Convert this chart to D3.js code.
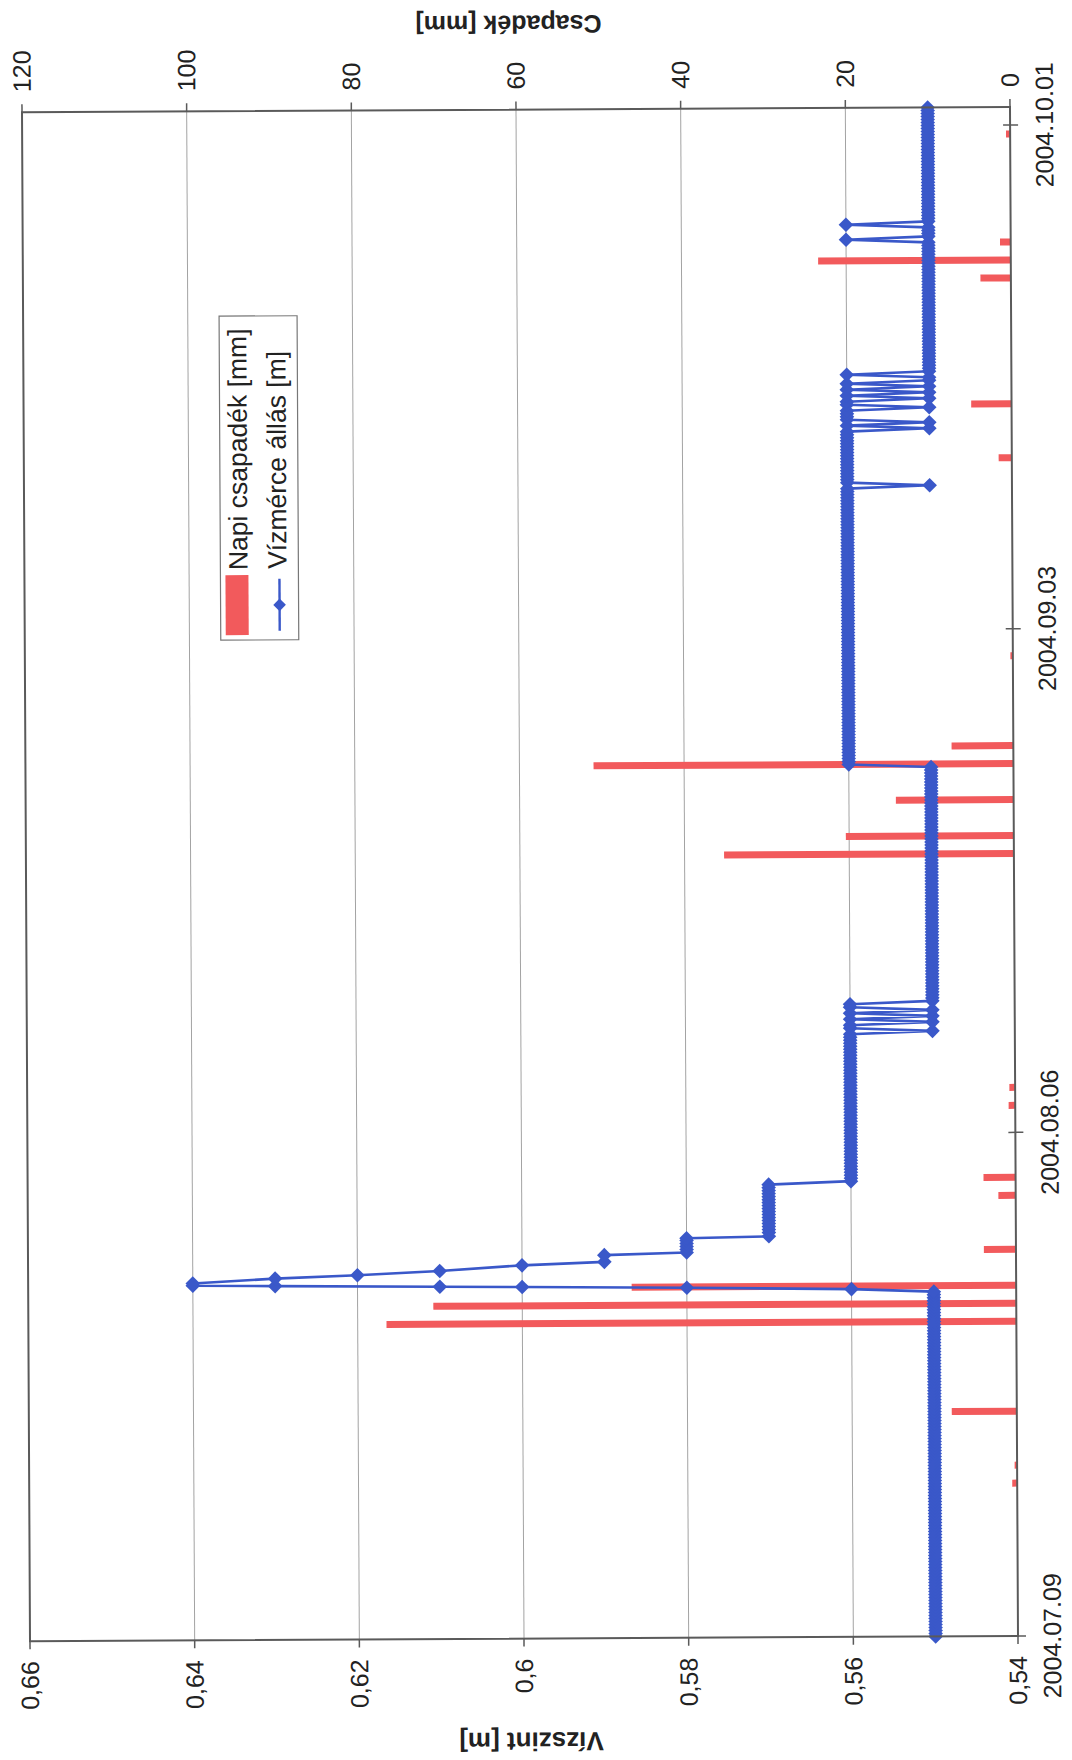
<!DOCTYPE html>
<html><head><meta charset="utf-8">
<script src="https://cdn.jsdelivr.net/npm/d3@7"></script>
<style>body{margin:0;background:#fff}svg{display:block}</style>
</head><body>
<svg id="c" width="1072" height="1760"></svg>
<script>
// ---------- data ----------
const startDate = '2004.07.09';
const endDate = '2004.10.02';
const dateTicks = ['2004.07.09', '2004.08.06', '2004.09.03', '2004.10.01'];
const levelTicks = [0.54, 0.56, 0.58, 0.6, 0.62, 0.64, 0.66];
const rainTicks = [0, 20, 40, 60, 80, 100, 120];
const seriesNames = ['Napi csapadék [mm]', 'Vízmérce állás [m]'];
const axisTitles = ['Vízszint [m]', 'Csapadék [mm]'];

// daily precipitation
const rainDates = ['2004.07.17','2004.07.18','2004.07.21','2004.07.26','2004.07.27','2004.07.28',
  '2004.07.30','2004.08.02','2004.08.03','2004.08.07','2004.08.08','2004.08.21','2004.08.22',
  '2004.08.24','2004.08.26','2004.08.27','2004.09.01','2004.09.12','2004.09.15','2004.09.22',
  '2004.09.23','2004.09.24','2004.09.30'];
const rainMm = [0.6, 0.3, 7.9, 76.5, 70.8, 46.7, 3.9, 2.1, 3.9, 0.8, 0.7, 35.2, 20.4,
  14.3, 51.0, 7.5, 0.3, 1.6, 4.9, 3.7, 23.4, 1.3, 0.5];

// gauge readings every 4 hours from 2004.07.09 00:00 (cm); null = covered by the flood record below
const readingStepHours = 4;
const levelCm = [
55,55,55,55,55,55, 55,55,55,55,55,55, 55,55,55,55,55,55, 55,55,55,55,55,55, 55,55,55,55,55,55,
55,55,55,55,55,55, 55,55,55,55,55,55, 55,55,55,55,55,55, 55,55,55,55,55,55, 55,55,55,55,55,55,
55,55,55,55,55,55, 55,55,55,55,55,55, 55,55,55,55,55,55, 55,55,55,55,55,55, 55,55,55,55,55,55,
55,55,55,55,55,55, 55,55,55,55,55,55, 55,55,55,55,55,55, 55,55,55,55,55,55,
55,null,null,null,null,null, null,null,null,null,null,null, null,null,null,null,null,null,
null,null,null,57,57,57, 57,57,57,57,57,57, 57,57,57,57,57,57, 57,57,56,56,56,56,
56,56,56,56,56,56, 56,56,56,56,56,56, 56,56,56,56,56,56, 56,56,56,56,56,56,
56,56,56,56,56,56, 56,56,56,56,56,56, 56,56,56,56,56,56,
56,56,56,56,55,56, 56,55,56,55,56,55, 56,56,55,55,55,55,
55,55,55,55,55,55, 55,55,55,55,55,55, 55,55,55,55,55,55, 55,55,55,55,55,55,
55,55,55,55,55,55, 55,55,55,55,55,55, 55,55,55,55,55,55, 55,55,55,55,55,55,
55,55,55,55,55,55, 55,55,55,55,55,55, 55,55,55,55,55,55, 55,55,55,55,55,55,
55,55,55,56,56,56,
56,56,56,56,56,56, 56,56,56,56,56,56, 56,56,56,56,56,56, 56,56,56,56,56,56, 56,56,56,56,56,56,
56,56,56,56,56,56, 56,56,56,56,56,56, 56,56,56,56,56,56, 56,56,56,56,56,56, 56,56,56,56,56,56,
56,56,56,56,56,56, 56,56,56,56,56,56, 56,56,56,56,56,56, 56,56,56,56,56,56, 56,56,56,56,56,56,
55,56,56,56,56,56, 56,56,56,56,56,56, 56,56,56,56,56,56,
56,55,56,55,56,56, 56,56,55,56,56,55, 56,55,56,55,56,55, 55,56,55,55,55,55,
55,55,55,55,55,55, 55,55,55,55,55,55, 55,55,55,55,55,55, 55,55,55,55,55,55,
55,55,55,55,55,55, 55,55,55,55,55,55,
55,55,55,55,56,55, 55,55,55,56,55,55,
55,55,55,55,55,55, 55,55,55,55,55,55, 55,55,55,55,55,55, 55,55,55,55,55,55,
55,55,55,55,55,55, 55,55,55,55,55,55,
55
];
// flood event record (hours from 2004.07.09 00:00, cm)
const eventHours = [460, 464, 467, 469, 470, 472, 473, 476, 482, 486, 491, 498, 502, 511,
  514, 518, 522, 526, 530, 533, 535];
const eventCm = [55, 56, 58, 60, 61, 63, 64, 64, 63, 62, 61, 60, 59, 59,
  58, 58, 58, 58, 58, 58, 57];

// ---------- layout ----------
const W = 1529, H = 988;          // chart drawn in its own orientation, then turned
const RED = '#f25a5c', BLUE = '#3a58c9', FONT = '"Liberation Sans", Arial, sans-serif';

const parse = d3.utcParse('%Y.%m.%d');
const t0 = parse(startDate);
const HOUR = 3600e3;
const x = d3.scaleUtc().domain([t0, parse(endDate)]).range([0, W]);
const yL = d3.scaleLinear().domain([0.54, 0.66]).range([H, 0]);
const yR = d3.scaleLinear().domain([0, 120]).range([H, 0]);

const readings = levelCm
  .map((c, i) => c == null ? null : { t: new Date(+t0 + i * readingStepHours * HOUR), v: c / 100 })
  .filter(Boolean)
  .concat(eventHours.map((h, i) => ({ t: new Date(+t0 + h * HOUR), v: eventCm[i] / 100 })))
  .sort((a, b) => a.t - b.t);

const rain = rainDates.map((d, i) => ({ t: new Date(+parse(d) + 12 * HOUR), v: rainMm[i] }));

const svg = d3.select('#c');
svg.append('rect').attr('width', 1072).attr('height', 1760).attr('fill', '#fff');
const tilt = svg.append('g').attr('transform', 'rotate(-0.3 520 874)');
const g = tilt.append('g').attr('transform', 'translate(26,1638.6) rotate(-90)')
  .style('font-family', FONT);

// plot background
g.append('rect').attr('width', W).attr('height', H).attr('fill', '#fff');

// gridlines
g.append('g').selectAll('line').data(levelTicks.slice(1, -1)).join('line')
  .attr('x1', 0).attr('x2', W).attr('y1', d => yL(d)).attr('y2', d => yL(d))
  .attr('stroke', '#a3a3a3').attr('stroke-width', 1);

// precipitation bars
const barW = 7;
g.append('g').selectAll('rect').data(rain).join('rect')
  .attr('x', d => x(d.t) - barW / 2).attr('width', barW)
  .attr('y', d => yR(d.v)).attr('height', d => H - yR(d.v))
  .attr('fill', RED);

// water level line + markers
const line = d3.line().x(d => x(d.t)).y(d => yL(d.v));
g.append('path').datum(readings).attr('d', line)
  .attr('fill', 'none').attr('stroke', BLUE).attr('stroke-width', 2.6).attr('stroke-linejoin', 'round');
const dia = 'M0,-7.3L7.3,0L0,7.3L-7.3,0Z';
g.append('g').selectAll('path').data(readings).join('path')
  .attr('transform', d => `translate(${x(d.t)},${yL(d.v)})`)
  .attr('d', dia).attr('fill', BLUE);

// border
g.append('rect').attr('width', W).attr('height', H).attr('fill', 'none')
  .attr('stroke', '#5a5a5a').attr('stroke-width', 2);

// left (level) axis
const axL = g.append('g');
axL.selectAll('line').data(levelTicks).join('line')
  .attr('x1', 0).attr('x2', -8).attr('y1', d => yL(d)).attr('y2', d => yL(d))
  .attr('stroke', '#5a5a5a').attr('stroke-width', 1.5);
axL.selectAll('text').data(levelTicks).join('text')
  .attr('x', -20).attr('y', d => yL(d)).attr('dy', '0.35em')
  .attr('text-anchor', 'end').attr('font-size', 25).attr('fill', '#222')
  .text(d => String(d).replace('.', ','));

// right (rain) axis
const axR = g.append('g');
axR.selectAll('line').data(rainTicks).join('line')
  .attr('x1', W).attr('x2', W + 8).attr('y1', d => yR(d)).attr('y2', d => yR(d))
  .attr('stroke', '#5a5a5a').attr('stroke-width', 1.5);
axR.selectAll('text').data(rainTicks).join('text')
  .attr('x', W + 20).attr('y', d => yR(d)).attr('dy', '0.35em')
  .attr('text-anchor', 'start').attr('font-size', 25).attr('fill', '#222')
  .text(d => d);

// date axis
const axD = g.append('g');
axD.selectAll('line').data(dateTicks).join('line')
  .attr('x1', d => x(parse(d))).attr('x2', d => x(parse(d)))
  .attr('y1', H - 7).attr('y2', H + 8)
  .attr('stroke', '#5a5a5a').attr('stroke-width', 1.5);
axD.selectAll('text').data(dateTicks).join('text')
  .attr('x', d => x(parse(d))).attr('y', H + 43)
  .attr('text-anchor', 'middle').attr('font-size', 25).attr('fill', '#222')
  .text(d => d);

// axis titles
g.append('text').attr('transform', 'translate(-94,501) rotate(-90)')
  .attr('text-anchor', 'middle').attr('font-size', 26).attr('font-weight', 'bold').attr('fill', '#222')
  .text(axisTitles[0]);
g.append('text').attr('transform', `translate(${W + 94},487) rotate(-90)`)
  .attr('text-anchor', 'middle').attr('font-size', 25).attr('font-weight', 'bold').attr('fill', '#222')
  .text(axisTitles[1]);

// legend
const lg = g.append('g').attr('transform', 'translate(1000,196)');
lg.append('rect').attr('width', 324).attr('height', 78).attr('fill', '#fff')
  .attr('stroke', '#777').attr('stroke-width', 1.2);
lg.append('rect').attr('x', 5).attr('y', 5).attr('width', 60).attr('height', 23).attr('fill', RED);
lg.append('text').attr('x', 70).attr('y', 27).attr('font-size', 26.5).attr('fill', '#222').text(seriesNames[0]);
lg.append('line').attr('x1', 9).attr('x2', 61).attr('y1', 59).attr('y2', 59)
  .attr('stroke', BLUE).attr('stroke-width', 2.4);
lg.append('path').attr('transform', 'translate(35,59)').attr('d', 'M0,-6.3L6.3,0L0,6.3L-6.3,0Z').attr('fill', BLUE);
lg.append('text').attr('x', 71).attr('y', 66).attr('font-size', 26.5).attr('fill', '#222').text(seriesNames[1]);
</script>
</body></html>
